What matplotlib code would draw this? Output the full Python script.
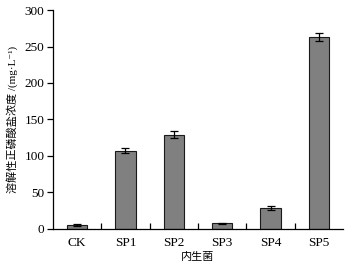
import numpy as np
import matplotlib.pyplot as plt

plt.rcParams['font.family'] = ['Liberation Serif', 'Noto Sans CJK SC', 'DejaVu Serif']

strains = ['CK', 'SP1', 'SP2', 'SP3', 'SP4', 'SP5']
means = [5, 107, 129, 7, 28, 263]
errs = [1.5, 3, 5, 1.2, 3, 5]

fig = plt.figure(figsize=(3.48, 2.73), dpi=100)
ax = fig.add_axes([0.152, 0.163, 0.834, 0.8])

x = np.arange(len(strains))
ax.bar(x, means, width=0.42, color='#808080', edgecolor='#1a1a1a', linewidth=0.8,
       yerr=errs, capsize=3, error_kw=dict(elinewidth=0.9, capthick=0.9, ecolor='black'))

ax.set_xlim(-0.5, len(strains) - 0.5)
ax.set_ylim(0, 300)
ax.set_yticks([0, 50, 100, 150, 200, 250, 300])
ax.set_xticks(x)
ax.set_xticklabels(strains)
ax.set_xticks(x[:-1] + 0.5, minor=True)

ax.spines['top'].set_visible(False)
ax.spines['right'].set_visible(False)
ax.spines['left'].set_linewidth(0.9)
ax.spines['bottom'].set_linewidth(0.9)

ax.tick_params(axis='y', direction='out', length=4, width=0.9, labelsize=9.5, pad=2)
ax.tick_params(axis='x', which='major', length=0, labelsize=9.5, pad=6)
ax.tick_params(axis='x', which='minor', direction='in', length=4, width=0.9)

ax.set_xlabel('内生菌', fontsize=8, labelpad=2)
ax.set_ylabel('溶解性正磷酸盐浓度 /(mg·L⁻¹)', fontsize=8, labelpad=5)

fig.savefig('out.png', dpi=100)
